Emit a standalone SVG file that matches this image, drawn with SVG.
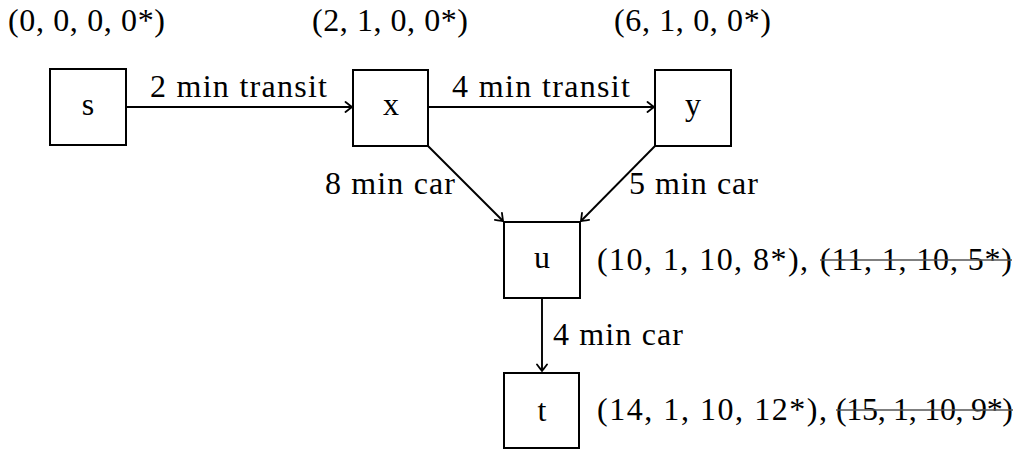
<svg xmlns="http://www.w3.org/2000/svg" width="1030" height="450" viewBox="0 0 1030 450">
  <defs>
    <!-- open curved "to" arrowhead -->
    <marker id="to" viewBox="-8 -6 10 12" markerWidth="10" markerHeight="12" refX="0" refY="0" orient="auto" markerUnits="userSpaceOnUse">
      <path d="M-6.5,-5 Q-1.5,-1.2 0,0 Q-1.5,1.2 -6.5,5" fill="none" stroke="#000" stroke-width="1.8" stroke-linecap="round"/>
    </marker>
  </defs>
  <style>
    text { font-family: "Liberation Serif", "Times New Roman", serif; font-size: 32px; fill: #000; }
    .box { fill: #fff; stroke: #000; stroke-width: 2; }
    .edge { fill: none; stroke: #000; stroke-width: 1.9; marker-end: url(#to); }
    .strike { stroke: #555; stroke-width: 1.7; }
    .mid { text-anchor: middle; }
  </style>
  <rect width="1030" height="450" fill="#fff"/>

  <!-- connectors -->
  <g id="connectors">
    <line class="edge" x1="126" y1="107" x2="352" y2="107"/>
    <line class="edge" x1="428" y1="107" x2="654" y2="107"/>
    <line class="edge" x1="428" y1="146" x2="503" y2="221"/>
    <line class="edge" x1="655" y1="146" x2="581" y2="221"/>
    <line class="edge" x1="542" y1="298" x2="542" y2="371"/>
    <text x="150" y="97" textLength="177" lengthAdjust="spacing">2 min transit</text>
    <text x="452" y="97" textLength="178" lengthAdjust="spacing">4 min transit</text>
    <text x="325" y="194" textLength="130" lengthAdjust="spacing">8 min car</text>
    <text x="629" y="194" textLength="129" lengthAdjust="spacing">5 min car</text>
    <text x="553" y="345" textLength="130" lengthAdjust="spacing">4 min car</text>
  </g>

  <!-- nodes -->
  <g id="node-s">
    <rect class="box" x="50" y="69" width="76" height="76"/>
    <text class="mid" x="88" y="115">s</text>
    <text x="8" y="31" textLength="157" lengthAdjust="spacing">(0, 0, 0, 0*)</text>
  </g>
  <g id="node-x">
    <rect class="box" x="353" y="70" width="75" height="76"/>
    <text class="mid" x="391" y="115">x</text>
    <text x="312" y="31" textLength="156" lengthAdjust="spacing">(2, 1, 0, 0*)</text>
  </g>
  <g id="node-y">
    <rect class="box" x="655" y="70" width="76" height="76"/>
    <text class="mid" x="693" y="115">y</text>
    <text x="614" y="31" textLength="157" lengthAdjust="spacing">(6, 1, 0, 0*)</text>
  </g>
  <g id="node-u">
    <rect class="box" x="504" y="222" width="76" height="76"/>
    <text class="mid" x="542" y="268">u</text>
    <text x="597" y="270" textLength="211" lengthAdjust="spacing">(10, 1, 10, 8*),</text>
    <text x="820" y="270" textLength="192" lengthAdjust="spacing">(11, 1, 10, 5*)</text>
    <line class="strike" x1="820" y1="260" x2="1012" y2="260"/>
  </g>
  <g id="node-t">
    <rect class="box" x="504" y="373" width="75" height="75"/>
    <text class="mid" x="542" y="421">t</text>
    <text x="597" y="420" textLength="230" lengthAdjust="spacing">(14, 1, 10, 12*),</text>
    <text x="836" y="420" textLength="177" lengthAdjust="spacing">(15, 1, 10, 9*)</text>
    <line class="strike" x1="836" y1="410" x2="1013" y2="410"/>
  </g>
</svg>
